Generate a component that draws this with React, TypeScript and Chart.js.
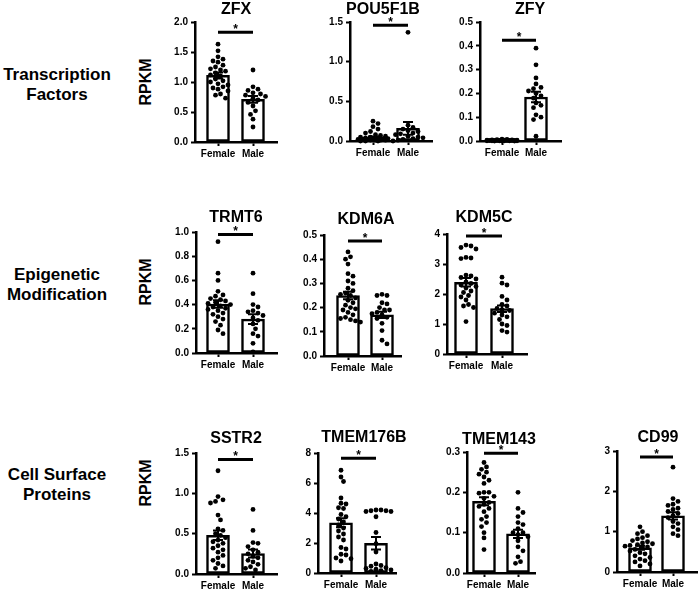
import React, { useEffect, useRef } from 'react';
import { Chart, registerables } from 'chart.js';
Chart.register(...registerables);

const FONT = '"Liberation Sans", Arial, Helvetica, sans-serif';

const genes = ['ZFX', 'POU5F1B', 'ZFY', 'TRMT6', 'KDM6A', 'KDM5C', 'SSTR2', 'TMEM176B', 'TMEM143', 'CD99'];
const groups = ['Female', 'Male'];
const rowLabels = [['Transcription', 'Factors'], ['Epigenetic', 'Modification'], ['Cell Surface', 'Proteins']];
const yAxisLabel = 'RPKM';

// individual sample values
const zfxFemale = [1.63, 1.52, 1.42, 1.38, 1.35, 1.33, 1.28, 1.25, 1.22, 1.2, 1.18, 1.15, 1.12, 1.1, 1.05, 1.02, 1.0, 0.97, 0.95, 0.92, 0.9, 0.88, 0.85, 0.8, 0.78, 0.73];
const zfxMale = [1.2, 0.92, 0.88, 0.86, 0.82, 0.8, 0.78, 0.76, 0.73, 0.7, 0.66, 0.6, 0.52, 0.46, 0.38, 0.25];
const pou5f1bFemale = [0.25, 0.22, 0.18, 0.15, 0.12, 0.1, 0.08, 0.07, 0.06, 0.05, 0.05, 0.04, 0.04, 0.03, 0.03, 0.03, 0.02, 0.02, 0.02, 0.01, 0.01, 0.01, 0.01, 0.0, 0.0, 0.0];
const pou5f1bMale = [1.37, 0.2, 0.17, 0.15, 0.13, 0.12, 0.1, 0.09, 0.08, 0.06, 0.05, 0.04, 0.03, 0.02, 0.01, 0.0];
const zfyFemale = [0.008, 0.007, 0.006, 0.005, 0.005, 0.004, 0.004, 0.004, 0.003, 0.003, 0.003, 0.003, 0.002, 0.002, 0.002, 0.002, 0.002, 0.001, 0.001, 0.001, 0.001, 0.001, 0.001, 0.0, 0.0, 0.0];
const zfyMale = [0.39, 0.32, 0.265, 0.24, 0.225, 0.22, 0.21, 0.2, 0.19, 0.18, 0.16, 0.15, 0.14, 0.11, 0.1, 0.09, 0.02];
const trmt6Female = [0.92, 0.66, 0.6, 0.51, 0.48, 0.47, 0.45, 0.44, 0.43, 0.42, 0.41, 0.4, 0.39, 0.38, 0.37, 0.36, 0.35, 0.33, 0.32, 0.3, 0.28, 0.26, 0.23, 0.19, 0.16];
const trmt6Male = [0.66, 0.49, 0.4, 0.38, 0.35, 0.34, 0.33, 0.31, 0.29, 0.27, 0.24, 0.2, 0.14, 0.08, 0.01, 0.16];
const kdm6aFemale = [0.43, 0.41, 0.4, 0.38, 0.34, 0.33, 0.31, 0.3, 0.28, 0.27, 0.26, 0.255, 0.25, 0.24, 0.23, 0.22, 0.21, 0.2, 0.195, 0.19, 0.18, 0.17, 0.16, 0.155, 0.15, 0.145, 0.14];
const kdm6aMale = [0.255, 0.25, 0.25, 0.22, 0.215, 0.2, 0.19, 0.19, 0.18, 0.175, 0.17, 0.16, 0.155, 0.135, 0.105, 0.065, 0.05];
const kdm5cFemale = [3.63, 3.6, 3.55, 3.5, 3.22, 3.2, 3.18, 2.63, 2.6, 2.55, 2.5, 2.4, 2.35, 2.3, 2.25, 2.2, 2.1, 2.05, 1.95, 1.9, 1.8, 1.65, 1.6, 1.55, 1.08];
const kdm5cMale = [2.56, 2.36, 2.3, 1.92, 1.8, 1.65, 1.6, 1.52, 1.48, 1.45, 1.36, 1.3, 1.24, 1.15, 1.0, 0.95, 0.78, 0.73];
const sstr2Female = [1.28, 0.96, 0.92, 0.9, 0.88, 0.73, 0.67, 0.56, 0.54, 0.5, 0.48, 0.45, 0.42, 0.4, 0.38, 0.35, 0.32, 0.3, 0.27, 0.23, 0.2, 0.17, 0.13, 0.1, 0.07];
const sstr2Male = [0.8, 0.54, 0.39, 0.38, 0.34, 0.3, 0.27, 0.25, 0.22, 0.2, 0.17, 0.15, 0.12, 0.09, 0.07, 0.05];
const tmem176bFemale = [6.85, 6.4, 6.1, 5.0, 4.65, 4.6, 4.35, 4.3, 3.9, 3.75, 3.6, 3.4, 3.2, 3.0, 2.8, 2.6, 2.4, 2.2, 1.7, 1.6, 1.25, 1.2, 1.0, 0.8, 0.95];
const tmem176bMale = [4.2, 4.2, 4.15, 4.15, 4.1, 4.1, 3.75, 2.7, 1.95, 1.4, 0.6, 0.5, 0.45, 0.35, 0.3, 0.25, 0.2, 0.15, 0.1];
const tmem143Female = [0.274, 0.263, 0.257, 0.25, 0.245, 0.238, 0.23, 0.222, 0.2, 0.2, 0.198, 0.19, 0.185, 0.175, 0.17, 0.165, 0.16, 0.152, 0.14, 0.133, 0.125, 0.115, 0.1, 0.087, 0.058];
const tmem143Male = [0.2, 0.16, 0.15, 0.14, 0.125, 0.12, 0.11, 0.1, 0.1, 0.095, 0.09, 0.08, 0.065, 0.055, 0.04, 0.028, 0.024];
const cd99Female = [1.12, 1.0, 0.95, 0.9, 0.85, 0.82, 0.78, 0.75, 0.72, 0.7, 0.68, 0.66, 0.64, 0.62, 0.6, 0.56, 0.52, 0.48, 0.45, 0.4, 0.36, 0.32, 0.28, 0.25, 0.2, 0.15];
const cd99Male = [2.6, 1.82, 1.75, 1.68, 1.65, 1.58, 1.55, 1.5, 1.45, 1.4, 1.35, 1.25, 1.2, 1.12, 1.05, 0.95, 0.9];

// bar heights (mean) and error bars (SEM)
const femaleMeans = [1.11, 0.045, 0.003, 0.405, 0.25, 2.39, 0.48, 3.35, 0.178, 0.6];
const maleMeans = [0.71, 0.16, 0.185, 0.28, 0.17, 1.51, 0.253, 1.98, 0.097, 1.39];
const femaleSem = [0.05, 0.012, 0.0006, 0.03, 0.015, 0.14, 0.06, 0.3, 0.01, 0.05];
const maleSem = [0.055, 0.08, 0.022, 0.04, 0.013, 0.11, 0.05, 0.42, 0.01, 0.09];
const sigLevel = [1.83, 1.46, 0.423, 0.98, 0.475, 3.93, 1.42, 7.65, 0.297, 2.85];

// y-axis ticks
const yMax = [2.0, 1.5, 0.5, 1.0, 0.5, 4, 1.5, 8, 0.3, 3];
const yStep = [0.5, 0.5, 0.1, 0.2, 0.1, 1, 0.5, 2, 0.1, 1];
const yDecimals = [1, 1, 1, 1, 1, 0, 1, 0, 1, 0];

const femaleValues = [zfxFemale, pou5f1bFemale, zfyFemale, trmt6Female, kdm6aFemale, kdm5cFemale, sstr2Female, tmem176bFemale, tmem143Female, cd99Female];
const maleValues = [zfxMale, pou5f1bMale, zfyMale, trmt6Male, kdm6aMale, kdm5cMale, sstr2Male, tmem176bMale, tmem143Male, cd99Male];

// layout (pixels on page): plot area and bar centres, title position
const layout = [
  { left: 195, right: 277, top: 22, bottom: 142, fx: 218, mx: 253, tx: 236, ty: 10 },
  { left: 350, right: 432, top: 22, bottom: 141, fx: 373, mx: 408, tx: 383, ty: 10 },
  { left: 480, right: 561, top: 22, bottom: 141, fx: 502, mx: 536, tx: 530, ty: 10 },
  { left: 196, right: 277, top: 232, bottom: 353, fx: 218, mx: 253, tx: 236, ty: 218 },
  { left: 324, right: 401, top: 235, bottom: 356, fx: 348, mx: 382, tx: 366, ty: 220 },
  { left: 447, right: 527, top: 234, bottom: 354, fx: 466, mx: 502, tx: 484, ty: 218 },
  { left: 196, right: 277, top: 453, bottom: 574, fx: 218, mx: 253, tx: 236, ty: 439 },
  { left: 318, right: 396, top: 453, bottom: 573, fx: 341, mx: 376, tx: 364, ty: 438 },
  { left: 467, right: 535, top: 452, bottom: 573, fx: 484, mx: 518, tx: 499, ty: 440 },
  { left: 617, right: 697, top: 451, bottom: 572, fx: 640, mx: 673, tx: 658, ty: 438 },
];
const rowLabelY = [65, 265, 465];
const rpkmY = [82, 282, 483];

const PAD_T = 30, AX_W = 45, PAD_R = 30, AX_H = 22;

function swarm(values: number[], center: number, pxPerY: number, pxPerX: number) {
  const d = 5.0, maxOff = 15;
  const placed: { x: number; y: number }[] = [];
  const sorted = [...values].sort((a, b) => b - a);
  const out: { x: number; y: number }[] = [];
  for (const v of sorted) {
    const py = v * pxPerY;
    let best = 0, bestDist = -1;
    for (let k = 0; k < 40; k++) {
      const step = Math.ceil(k / 2) * (k % 2 === 1 ? 1 : -1);
      const ox = step * d * 0.5;
      if (Math.abs(ox) > maxOff) break;
      let minD = Infinity;
      for (const p of placed) {
        const dd = Math.hypot(p.x - ox, p.y - py);
        if (dd < minD) minD = dd;
      }
      if (minD >= d) { best = ox; bestDist = Infinity; break; }
      if (minD > bestDist) { bestDist = minD; best = ox; }
    }
    placed.push({ x: best, y: py });
    out.push({ x: center + best / pxPerX, y: v });
  }
  return out;
}

const annotPlugin = {
  id: 'annot',
  afterDatasetsDraw(chart: any, _args: any, opts: any) {
    const { ctx, scales } = chart;
    const x = scales.x, y = scales.y;
    ctx.save();
    ctx.strokeStyle = '#000';
    ctx.fillStyle = '#000';
    ctx.lineWidth = 2;
    [0, 1].forEach((k) => {
      const m = opts.means[k], s = opts.sems[k];
      const px = x.getPixelForValue(k);
      const t = y.getPixelForValue(m + s), b = y.getPixelForValue(Math.max(0, m - s));
      ctx.beginPath();
      ctx.moveTo(px, t); ctx.lineTo(px, b);
      ctx.moveTo(px - 5, t); ctx.lineTo(px + 5, t);
      ctx.moveTo(px - 5, b); ctx.lineTo(px + 5, b);
      ctx.stroke();
    });
    const sy = y.getPixelForValue(opts.sig);
    const x0 = x.getPixelForValue(0), x1 = x.getPixelForValue(1);
    ctx.lineWidth = 3;
    ctx.beginPath();
    ctx.moveTo(x0, sy); ctx.lineTo(x1, sy);
    ctx.stroke();
    ctx.font = `bold 12px ${FONT}`;
    ctx.textAlign = 'center';
    ctx.textBaseline = 'alphabetic';
    ctx.fillText('*', (x0 + x1) / 2, sy + 1);
    ctx.font = `bold 16px ${FONT}`;
    ctx.textBaseline = 'middle';
    ctx.fillText(opts.title, opts.tx, opts.ty);
    ctx.restore();
  },
};

function Panel({ i }: { i: number }) {
  const ref = useRef<HTMLCanvasElement>(null);
  const g = layout[i];
  const cw = AX_W + (g.right - g.left) + PAD_R;
  const ch = PAD_T + (g.bottom - g.top) + AX_H;
  const cLeft = g.left - AX_W, cTop = g.top - PAD_T;
  useEffect(() => {
    const unit = g.mx - g.fx;
    const xMin = (g.left - g.fx) / unit;
    const xMax = (g.right - g.fx) / unit;
    const pxPerY = (g.bottom - g.top) / yMax[i];
    const pts = [
      ...swarm(femaleValues[i], 0, pxPerY, unit),
      ...swarm(maleValues[i], 1, pxPerY, unit),
    ];
    const tickFont = { family: FONT, size: 10, weight: 'bold' as const };
    const grid = { display: true, drawOnChartArea: false, drawTicks: true, tickLength: 4, tickWidth: 2, tickColor: '#000', offset: false };
    const border = { display: true, color: '#000', width: 2.5 };
    const chart = new Chart(ref.current as HTMLCanvasElement, {
      type: 'bar',
      data: {
        datasets: [
          { type: 'scatter', data: pts, backgroundColor: '#000', borderWidth: 0, pointRadius: 2.4, order: 1, clip: false } as any,
          { type: 'bar', data: [{ x: 0, y: femaleMeans[i] }, { x: 1, y: maleMeans[i] }], backgroundColor: '#fff', borderColor: '#000', borderWidth: 2.5, borderSkipped: false, barThickness: 23, order: 2 } as any,
        ],
      },
      options: {
        animation: false,
        responsive: false,
        events: [],
        layout: { padding: { top: PAD_T, right: PAD_R, left: 0, bottom: 0 } },
        plugins: {
          legend: { display: false },
          tooltip: { enabled: false },
          annot: {
            means: [femaleMeans[i], maleMeans[i]],
            sems: [femaleSem[i], maleSem[i]],
            sig: sigLevel[i],
            title: genes[i],
            tx: g.tx - cLeft,
            ty: g.ty - cTop,
          },
        } as any,
        scales: {
          x: {
            type: 'linear',
            min: xMin,
            max: xMax,
            offset: false,
            afterBuildTicks: (s: any) => { s.ticks = [{ value: 0 }, { value: 1 }]; },
            afterFit: (s: any) => { s.height = AX_H; },
            ticks: { callback: (v: any) => groups[Math.round(Number(v))], font: tickFont, color: '#000', padding: 2, autoSkip: false, maxRotation: 0 },
            grid,
            border,
          },
          y: {
            type: 'linear',
            min: 0,
            max: yMax[i],
            afterFit: (s: any) => { s.width = AX_W; },
            ticks: { stepSize: yStep[i], callback: (v: any) => Number(v).toFixed(yDecimals[i]), font: tickFont, color: '#000', padding: 3 },
            grid,
            border,
          },
        } as any,
      },
      plugins: [annotPlugin],
    });
    return () => chart.destroy();
  }, []);
  return <canvas ref={ref} width={cw} height={ch} style={{ position: 'absolute', left: cLeft, top: cTop, width: cw, height: ch }} />;
}

export default function App() {
  return (
    <div style={{ position: 'absolute', left: 0, top: 0, width: 700, height: 590, overflow: 'hidden', background: '#fff', fontFamily: FONT }}>
      {rowLabels.map((lines, r) => (
        <div key={'r' + r} style={{ position: 'absolute', left: 0, top: rowLabelY[r], width: 114, textAlign: 'center', fontWeight: 'bold', fontSize: 17, lineHeight: '20px', color: '#000' }}>
          {lines.map((l, j) => <div key={j}>{l}</div>)}
        </div>
      ))}
      {rpkmY.map((cy, r) => (
        <div key={'k' + r} style={{ position: 'absolute', left: 146 - 30, top: cy - 10, width: 60, height: 20, lineHeight: '20px', textAlign: 'center', fontWeight: 'bold', fontSize: 16, color: '#000', transform: 'rotate(-90deg)' }}>
          {yAxisLabel}
        </div>
      ))}
      {genes.map((_, i) => <Panel key={i} i={i} />)}
    </div>
  );
}
